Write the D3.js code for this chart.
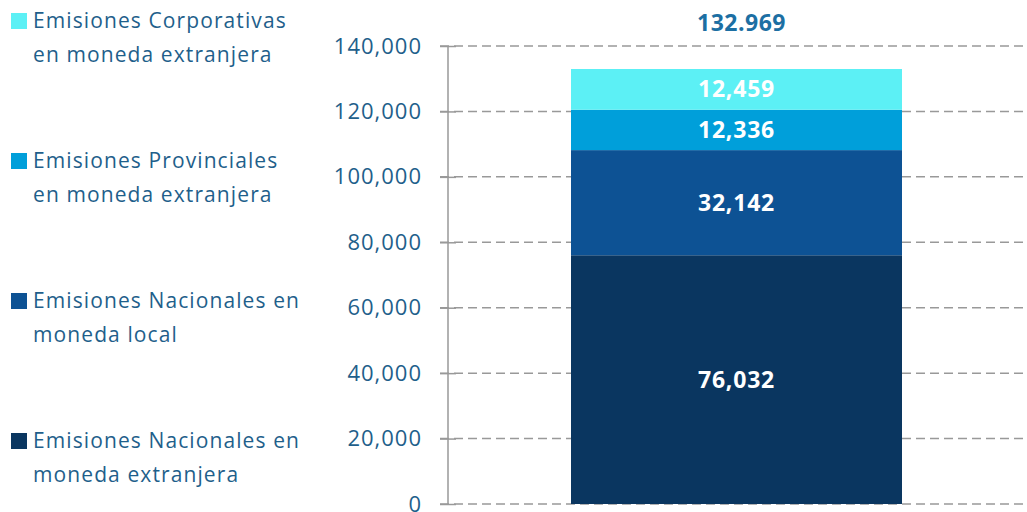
<!DOCTYPE html>
<html><head><meta charset="utf-8">
<script src="https://cdn.jsdelivr.net/npm/d3@7"></script>
<style>body{margin:0;background:#fff;}svg{display:block;font-family:"Open Sans",sans-serif;}</style>
</head><body><svg id="c" width="1027" height="512"></svg>
<script>
const categories = ["Total"];
const seriesNames = [
  ["Emisiones Nacionales en", "moneda extranjera"],
  ["Emisiones Nacionales en", "moneda local"],
  ["Emisiones Provinciales", "en moneda extranjera"],
  ["Emisiones Corporativas", "en moneda extranjera"]
];
const seriesValues = [76032, 32142, 12336, 12459];
const seriesColors = ["#0a3660", "#0d5294", "#009fda", "#5cf0f5"];
const totalLabel = "132.969";
const yTicks = [0, 20000, 40000, 60000, 80000, 100000, 120000, 140000];

const svg = d3.select("#c");
const y = d3.scaleLinear().domain([0, 140000]).range([504, 46]);
const x = d3.scaleBand().domain(categories).range([571, 902]).padding(0);

// gridlines
svg.append("g").selectAll("line").data(yTicks).join("line")
  .attr("x1", 440).attr("x2", 1027)
  .attr("y1", d => y(d)).attr("y2", d => y(d))
  .attr("stroke", "#999").attr("stroke-width", 1.5).attr("stroke-dasharray", "9,5");

// axis
const axis = d3.axisLeft(y).tickValues(yTicks).tickSize(8).tickPadding(18)
  .tickFormat(d3.format(","));
const gA = svg.append("g").attr("transform", "translate(448,0)").call(axis);
gA.select(".domain").attr("stroke", "#999").attr("stroke-width", 1.5).attr("d", `M0,${y(140000)}V${y(0)}`);
gA.selectAll(".tick line").attr("stroke", "#999").attr("stroke-width", 1.5).attr("x1", 8);
gA.selectAll(".tick text").attr("fill", "#1f5f8b").attr("font-size", 22)
  .attr("font-family", "'Open Sans',sans-serif").attr("letter-spacing", 1);

// stacked bars
let cum = 0;
const stack = seriesValues.map((v, i) => { const s = {v, y0: cum, y1: cum + v, c: seriesColors[i]}; cum += v; return s; });
const bx = x("Total"), bw = x.bandwidth();
svg.append("g").selectAll("rect").data(stack).join("rect")
  .attr("x", bx).attr("width", bw)
  .attr("y", d => y(d.y1)).attr("height", d => y(d.y0) - y(d.y1))
  .attr("fill", d => d.c);
svg.append("g").selectAll("text").data(stack).join("text")
  .attr("x", bx + bw / 2).attr("y", d => y((d.y0 + d.y1) / 2))
  .attr("dy", "0.35em").attr("text-anchor", "middle")
  .attr("fill", "#fff").attr("font-weight", "bold").attr("font-size", 23).attr("letter-spacing", 0.8)
  .text(d => d3.format(",")(d.v));

svg.append("text").attr("x", bx + bw / 2 + 5).attr("y", 23).attr("dy", "0.35em")
  .attr("text-anchor", "middle").attr("fill", "#1c6fa3").attr("font-weight", "bold").attr("font-size", 23)
  .attr("letter-spacing", 0.5)
  .text(totalLabel);

// legend (top to bottom: reversed order)
const legTops = [433, 293, 153, 13];
seriesNames.forEach((lines, i) => {
  const g = svg.append("g").attr("transform", `translate(0,${legTops[i]})`);
  g.append("rect").attr("x", 11).attr("y", 0).attr("width", 16).attr("height", 16).attr("fill", seriesColors[i]);
  lines.forEach((t, j) => {
    g.append("text").attr("x", 33).attr("y", 8 + j * 34).attr("dy", "0.35em")
      .attr("fill", "#1f5f8b").attr("font-size", 21).attr("letter-spacing", 1.1).text(t);
  });
});
</script></body></html>
